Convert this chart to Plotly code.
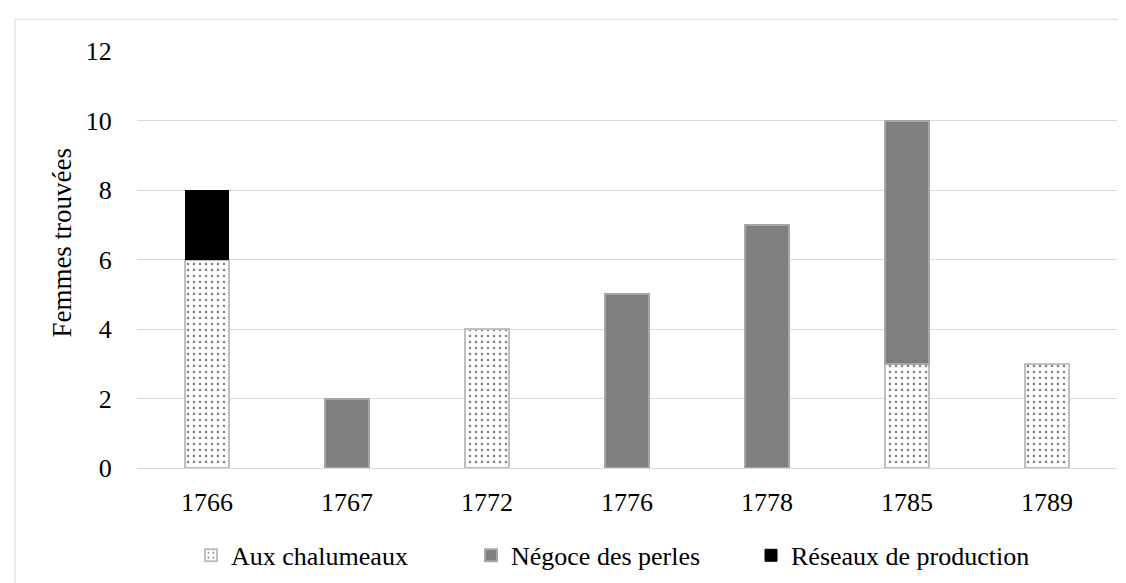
import plotly.graph_objects as go

years = ["1766", "1767", "1772", "1776", "1778", "1785", "1789"]
aux_chalumeaux = [6, None, 4, None, None, 3, 3]
negoce_perles = [None, 2, None, 5, 7, 7, None]
reseaux_production = [2, None, None, None, None, None, None]
y_ticks = [0, 2, 4, 6, 8, 10, 12]

FONT = "Liberation Serif"
FS = 26

fig = go.Figure()
fig.add_trace(go.Bar(
    x=years, y=aux_chalumeaux, name="Aux chalumeaux",
    marker=dict(color="white",
                pattern=dict(shape=".", fgcolor="black", bgcolor="white", size=6, solidity=0.13),
                line=dict(color="#bfbfbf", width=2)),
))
fig.add_trace(go.Bar(
    x=years, y=negoce_perles, name="Négoce des perles",
    marker=dict(color="#7f7f7f", line=dict(color="#a6a6a6", width=2)),
))
fig.add_trace(go.Bar(
    x=years, y=reseaux_production, name="Réseaux de production",
    marker=dict(color="black", line=dict(color="black", width=1)),
))

L, R, T, B = 129, 1109, 43, 463
W, H = 1126, 583

def px2x(p):
    return (p - L) / (R - L)

def py2y(p):
    return (B - p) / (B - T)

fig.update_layout(
    width=W, height=H,
    barmode="stack", bargap=0.686,
    margin=dict(l=L, r=W - R, t=T, b=H - B, pad=0),
    plot_bgcolor="white", paper_bgcolor="white",
    font=dict(family=FONT, size=FS, color="black"),
    legend=dict(orientation="h", x=px2x(603), xanchor="center", y=py2y(551), yanchor="middle",
                font=dict(family=FONT, size=FS, color="black"), traceorder="normal",
                entrywidthmode="pixels", entrywidth=235,
                itemclick=False, itemdoubleclick=False),
    showlegend=True,
)
fig.update_yaxes(range=[0, 12], tickvals=y_ticks, showgrid=True, gridcolor="#d9d9d9", gridwidth=1,
                 zeroline=True, zerolinecolor="#d9d9d9", zerolinewidth=1,
                 ticks="outside", ticklen=19, tickcolor="rgba(0,0,0,0)", showline=False,
                 tickfont=dict(family=FONT, size=FS, color="black"))
fig.update_xaxes(type="category", showgrid=False, showline=True, linecolor="#d9d9d9", linewidth=1,
                 ticks="outside", ticklen=11, tickcolor="rgba(0,0,0,0)",
                 tickfont=dict(family=FONT, size=FS, color="black"))

fig.add_annotation(text="Femmes trouvées", textangle=-90, xref="paper", yref="paper",
                   x=px2x(54), y=py2y(236), xanchor="center", yanchor="middle", showarrow=False,
                   font=dict(family=FONT, size=27, color="black"))

# chart-area border (partially cropped, as in the reference)
fig.add_shape(type="rect", xref="paper", yref="paper",
              x0=px2x(7), x1=px2x(1140), y0=py2y(600), y1=py2y(11),
              line=dict(color="#d9d9d9", width=1), fillcolor="rgba(0,0,0,0)", layer="below")

fig.write_html("out.html")
